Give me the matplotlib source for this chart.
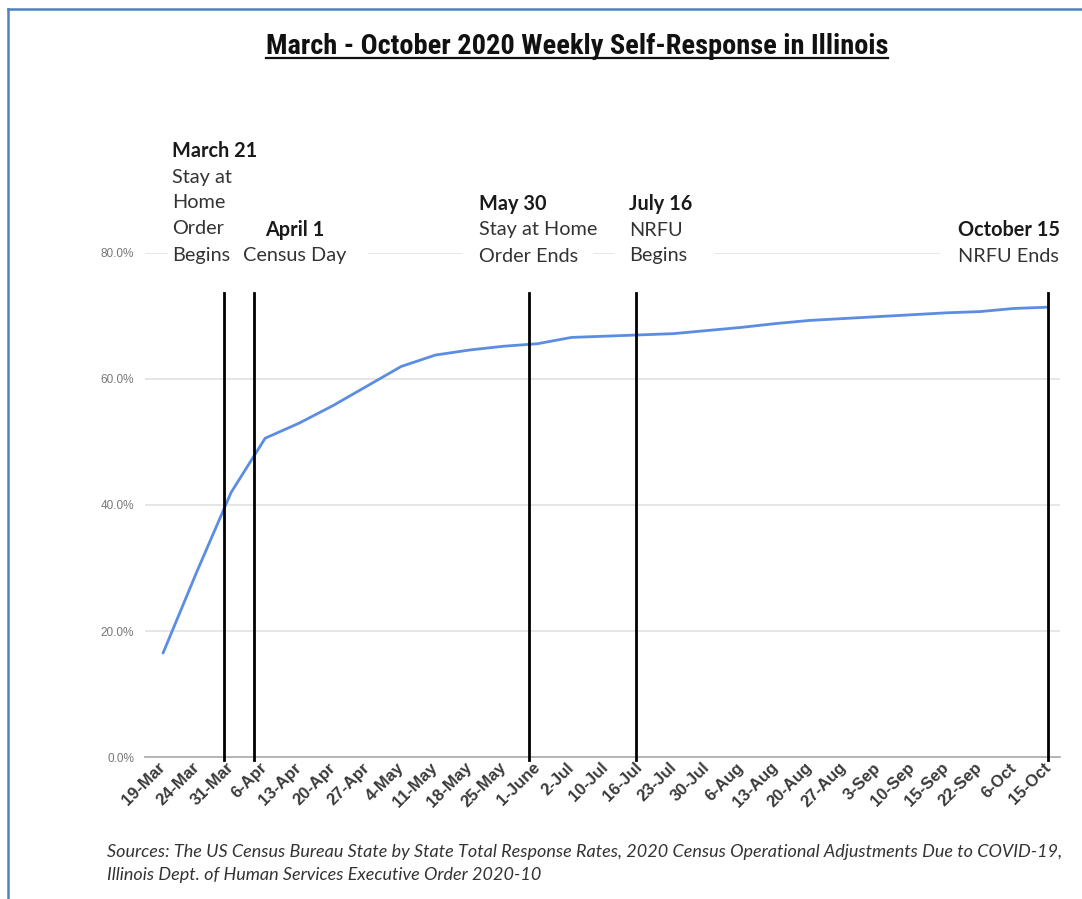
import matplotlib
matplotlib.use("Agg")
import matplotlib.pyplot as plt
from matplotlib.lines import Line2D
from matplotlib.patches import Rectangle

# ---------------- data ----------------
week_labels = ["19-Mar", "24-Mar", "31-Mar", "6-Apr", "13-Apr", "20-Apr", "27-Apr",
               "4-May", "11-May", "18-May", "25-May", "1-June", "2-Jul", "10-Jul",
               "16-Jul", "23-Jul", "30-Jul", "6-Aug", "13-Aug", "20-Aug", "27-Aug",
               "3-Sep", "10-Sep", "15-Sep", "22-Sep", "6-Oct", "15-Oct"]
self_response = [16.5, 29.5, 42.0, 50.6, 53.0, 55.8, 58.9, 62.0, 63.8, 64.6, 65.2,
                 65.6, 66.6, 66.8, 67.0, 67.2, 67.7, 68.2, 68.8, 69.3, 69.6, 69.9,
                 70.2, 70.5, 70.7, 71.2, 71.4]
y_ticks = [0, 20, 40, 60, 80]
y_tick_labels = ["0.0%", "20.0%", "40.0%", "60.0%", "80.0%"]
# event markers: position along the week axis (fractional category index)
event_positions = [1.79, 2.67, 10.75, 13.9, 26.0]
event_line_top = 73.6

title = "March - October 2020 Weekly Self-Response in Illinois"
sources = ["Sources: The US Census Bureau State by State Total Response Rates, 2020 Census Operational Adjustments Due to COVID-19,",
           "Illinois Dept. of Human Services Executive Order 2020-10"]

W, H = 1082, 899
DPI = 100
fig = plt.figure(figsize=(W / DPI, H / DPI), dpi=DPI)
fig.patch.set_facecolor("white")

def fx(px):
    return px / W

def fy(py):
    return 1 - py / H

ax = fig.add_axes([fx(145), fy(757), fx(1060) - fx(145), fy(253) - fy(757)])
x = list(range(len(week_labels)))
ax.plot(x, self_response, color="#5b8de3", lw=2.0, zorder=3, solid_capstyle="round",
        solid_joinstyle="round")
ax.set_xlim(-0.53, 26.35)
ax.set_ylim(0, 80)
ax.set_yticks(y_ticks)
ax.set_yticklabels(y_tick_labels)
ax.yaxis.grid(True, color="#e2e2e2", lw=1.2)
ax.set_axisbelow(True)
for s in ["top", "right", "left"]:
    ax.spines[s].set_visible(False)
ax.spines["bottom"].set_color("#b0b0b0")
ax.spines["bottom"].set_linewidth(1.3)
ax.tick_params(axis="y", length=0, pad=8, labelsize=8.5, labelcolor="#777777")
ax.tick_params(axis="x", length=0, pad=6)
ax.set_xticks(x)
ax.set_xticklabels(week_labels, rotation=45, ha="right", va="center",
                   rotation_mode="anchor", fontsize=12, fontweight="bold",
                   color="#3a3a3a", family=["Liberation Sans", "DejaVu Sans"])
for lab in ax.get_yticklabels():
    lab.set_family(["Liberation Sans", "DejaVu Sans"])

for ev in event_positions:
    ax.plot([ev, ev], [-0.5, event_line_top], color="black", lw=2.0,
            clip_on=False, zorder=4)

# ---------------- annotations ----------------
afont = ["Lato", "DejaVu Sans"]
asz = 14.3
blocks = [
    (172, "left", 151, [("March 21", True), ("Stay at", False), ("Home", False),
                         ("Order", False), ("Begins", False)], (4, 15)),
    (295, "center", 230, [("April 1", True), ("Census Day", False)], (15, 21)),
    (479, "left", 204, [("May 30", True), ("Stay at Home", False), ("Order Ends", False)], (17, 15)),
    (629, "left", 204, [("July 16", True), ("NRFU", False), ("Begins", False)], (15, 28)),
    (958, "left", 230, [("October 15", True), ("NRFU Ends", False)], (18, 15)),
]
last_texts = []
for bx, ha, y0, lines, pads in blocks:
    for i, (txt, bold) in enumerate(lines):
        tt = fig.text(fx(bx), fy(y0 + 26 * i), txt, ha=ha, va="center",
                      fontsize=asz, fontweight="bold" if bold else "normal",
                      color="#1a1a1a" if bold else "#333333", family=afont, zorder=6)
        if i == len(lines) - 1:
            last_texts.append((tt, pads))

fig.canvas.draw()
r = fig.canvas.get_renderer()
for tt, (pl, pr) in last_texts:
    bb = tt.get_window_extent(r)
    x0 = bb.x0 - pl
    x1 = bb.x1 + pr
    fig.add_artist(Rectangle((x0 / W, fy(259)), (x1 - x0) / W, 12 / H,
                             transform=fig.transFigure, fc="white", ec="none", zorder=5))

# ---------------- title ----------------
tfam = ["Liberation Sans Narrow", "Roboto Condensed", "Open Sans Condensed", "Roboto", "DejaVu Sans"]
t = fig.text(fx(577), fy(46), title, ha="center", va="center", fontsize=16,
             fontweight="bold", color="#111111", family=tfam)
fig.canvas.draw()
bb = t.get_window_extent(r)
t.set_fontsize(16 * 620 / bb.width)
fig.canvas.draw()
bb = t.get_window_extent(r)
fig.add_artist(Line2D([bb.x0 / W, bb.x1 / W], [fy(58), fy(58)], color="#111111", lw=1.6))

# ---------------- sources ----------------
sfam = ["Lato", "DejaVu Sans"]
s1 = fig.text(fx(107), fy(852), sources[0], ha="left", va="center", fontsize=11,
              style="italic", color="#333333", family=sfam)
fig.canvas.draw()
bb = s1.get_window_extent(r)
ssz = 11 * 950 / bb.width
s1.set_fontsize(ssz)
fig.text(fx(107), fy(875), sources[1], ha="left", va="center", fontsize=ssz,
         style="italic", color="#333333", family=sfam)

# ---------------- border ----------------
bc = "#4f81bd"
fig.add_artist(Line2D([fx(8), 1.0], [fy(9), fy(9)], color=bc, lw=1.8))
fig.add_artist(Line2D([fx(8), fx(8)], [fy(9), 0.0], color=bc, lw=1.8))

fig.savefig("out.png", dpi=DPI, facecolor="white")
